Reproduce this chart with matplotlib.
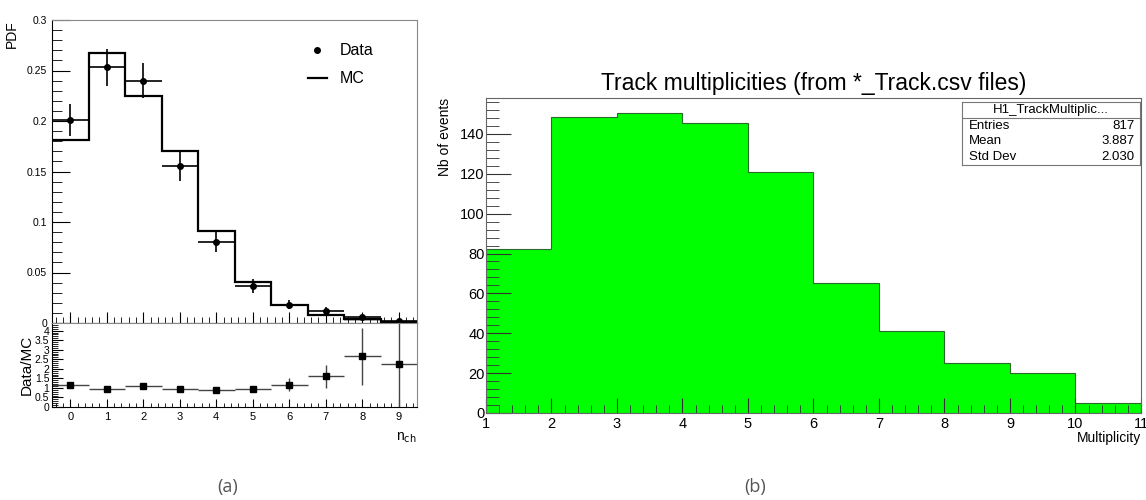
import matplotlib
matplotlib.use("Agg")
import matplotlib.pyplot as plt
from matplotlib.lines import Line2D
from matplotlib.ticker import MultipleLocator
import numpy as np

# ---- panel (a): charged multiplicity, data vs MC
nch = np.arange(10)
data_pdf = [0.201, 0.253, 0.240, 0.155, 0.080, 0.037, 0.018, 0.012, 0.006, 0.002]
data_err = [0.016, 0.018, 0.0175, 0.0145, 0.010, 0.007, 0.0045, 0.004, 0.002, 0.0015]
mc_pdf = [0.181, 0.267, 0.225, 0.170, 0.091, 0.041, 0.018, 0.0076, 0.0037, 0.0013]
mc_err = [0, 0, 0, 0, 0, 0, 0, 0.001, 0.0016, 0.0007]
ratio = [1.17, 0.96, 1.10, 0.93, 0.89, 0.93, 1.17, 1.62, 2.66, 2.25]
ratio_err = [0.06, 0.06, 0.07, 0.08, 0.10, 0.15, 0.33, 0.60, 1.50, 2.25]

# ---- panel (b): track multiplicity histogram
mult_edges = np.arange(1, 12)
mult_counts = [82.5, 148.3, 150.3, 145.5, 120.7, 65.3, 41.1, 25.1, 20.0, 5.1]
stats_rows = [("Entries", "817"), ("Mean", "3.887"), ("Std Dev", "2.030")]

plt.rcParams['font.family'] = ['Liberation Sans', 'DejaVu Sans']

fig = plt.figure(figsize=(11.46, 5), dpi=100)

def root_ticks(ax, size=7.5):
    ax.tick_params(which='both', direction='in', top=False, right=False, labelsize=size, color='black')
    for s in ax.spines.values():
        s.set_linewidth(0.8)

# upper left
ax1 = fig.add_axes([0.0454, 0.354, 0.3185, 0.606])
edges = np.arange(-0.5, 10.5, 1.0)
band_lo = np.array(mc_pdf) - np.array(mc_err)
ax1.bar(nch, 2 * np.array(mc_err), bottom=band_lo, width=1.0, color='#bbbbbb', edgecolor='none', zorder=1)
ax1.stairs(mc_pdf, edges, color='black', linewidth=1.6, baseline=None, zorder=2)
ax1.errorbar(nch, data_pdf, yerr=data_err, xerr=0.5, fmt='o', color='black', markersize=4,
             elinewidth=1.2, capsize=0, zorder=3)
ax1.set_xlim(-0.5, 9.5)
ax1.set_ylim(0, 0.3)
ax1.yaxis.set_minor_locator(MultipleLocator(0.01))
ax1.xaxis.set_major_locator(MultipleLocator(1))
ax1.xaxis.set_minor_locator(MultipleLocator(0.2))
ax1.set_yticks([0, 0.05, 0.1, 0.15, 0.2, 0.25, 0.3], ['0', '0.05', '0.1', '0.15', '0.2', '0.25', '0.3'])
root_ticks(ax1)
ax1.tick_params(axis='y', which='major', length=13)
ax1.tick_params(axis='y', which='minor', length=7)
ax1.tick_params(axis='x', which='major', length=8, labelbottom=False)
ax1.tick_params(axis='x', which='minor', length=4)
ax1.spines['top'].set_color('#888888')
ax1.spines['right'].set_color('#888888')
ax1.set_ylabel('PDF', fontsize=10, loc='top', labelpad=6)
handles = [Line2D([], [], marker='o', color='black', linestyle='none', markersize=4),
           Line2D([], [], color='black', linewidth=1.6)]
ax1.legend(handles, ['Data', 'MC'], loc='upper right', frameon=False, fontsize=11.5,
           bbox_to_anchor=(0.92, 0.97), handlelength=1.2, handletextpad=0.8, labelspacing=0.8)

# lower left ratio
ax2 = fig.add_axes([0.0454, 0.186, 0.3185, 0.168])
ax2.errorbar(nch, ratio, yerr=ratio_err, xerr=0.5, fmt='s', color='black', ecolor='#444444',
             markersize=5, elinewidth=1.0, capsize=0)
ax2.set_xlim(-0.5, 9.5)
ax2.set_ylim(0, 4.4)
ax2.yaxis.set_minor_locator(MultipleLocator(0.1))
ax2.xaxis.set_major_locator(MultipleLocator(1))
ax2.xaxis.set_minor_locator(MultipleLocator(0.2))
ax2.set_yticks(np.arange(0, 4.01, 0.5), ['0', '0.5', '1', '1.5', '2', '2.5', '3', '3.5', '4'])
root_ticks(ax2)
ax2.tick_params(axis='y', which='major', length=8, pad=2, labelsize=7.5)
ax2.tick_params(axis='y', which='minor', length=4)
ax2.tick_params(axis='x', which='major', length=6, labelsize=8)
ax2.tick_params(axis='x', which='minor', length=3)
ax2.spines['top'].set_color('#888888')
ax2.spines['right'].set_color('#888888')
ax2.set_ylabel('Data/MC', fontsize=11, labelpad=1)
ax2.set_xlabel(r'n$_{\mathrm{ch}}$', fontsize=10, loc='right', labelpad=6)

# right panel
ax3 = fig.add_axes([0.424, 0.174, 0.5716, 0.63])
ax3.stairs(mult_counts, mult_edges, fill=True, facecolor='#00ff00', edgecolor='none')
ax3.stairs(mult_counts, mult_edges, color='#2a6a2a', linewidth=0.8, baseline=0)
ax3.set_xlim(1, 11)
ax3.set_ylim(0, 158)
ax3.xaxis.set_major_locator(MultipleLocator(1))
ax3.xaxis.set_minor_locator(MultipleLocator(0.2))
ax3.yaxis.set_major_locator(MultipleLocator(20))
ax3.yaxis.set_minor_locator(MultipleLocator(4))
ax3.tick_params(which='both', direction='in', top=False, right=False, labelsize=10.5, color='#333333')
ax3.tick_params(axis='y', which='major', length=18, pad=1)
ax3.tick_params(axis='y', which='minor', length=9)
ax3.tick_params(axis='x', which='major', length=11, pad=3)
ax3.tick_params(axis='x', which='minor', length=6)
for s in ax3.spines.values():
    s.set_color('#666666')
    s.set_linewidth(0.8)
ax3.set_title('Track multiplicities (from *_Track.csv files)', fontsize=16.5, pad=6)
ax3.set_ylabel('Nb of events', fontsize=10, loc='top', labelpad=6)
ax3.set_xlabel('Multiplicity', fontsize=10, loc='right', labelpad=0)

# stats box
sb = fig.add_axes([0.8394, 0.67, 0.1553, 0.126])
sb.set_xticks([])
sb.set_yticks([])
sb.set_xlim(0, 1)
sb.set_ylim(0, 1)
for s in sb.spines.values():
    s.set_color('#777777')
    s.set_linewidth(0.8)
sb.axhline(0.75, color='#777777', linewidth=0.8)
sb.text(0.5, 0.875, 'H1_TrackMultiplic...', ha='center', va='center', fontsize=9.5)
for i, (k, v) in enumerate(stats_rows):
    yy = 0.625 - i * 0.25
    sb.text(0.04, yy, k, ha='left', va='center', fontsize=9.5)
    sb.text(0.97, yy, v, ha='right', va='center', fontsize=9.5)

fig.text(228 / 1146, 1 - 487 / 500, '(a)', ha='center', va='center', fontsize=13,
         color='#555555', family=['Open Sans', 'DejaVu Sans'])
fig.text(755 / 1146, 1 - 487 / 500, '(b)', ha='center', va='center', fontsize=13,
         color='#555555', family=['Open Sans', 'DejaVu Sans'])

fig.savefig('out.png', dpi=100)
